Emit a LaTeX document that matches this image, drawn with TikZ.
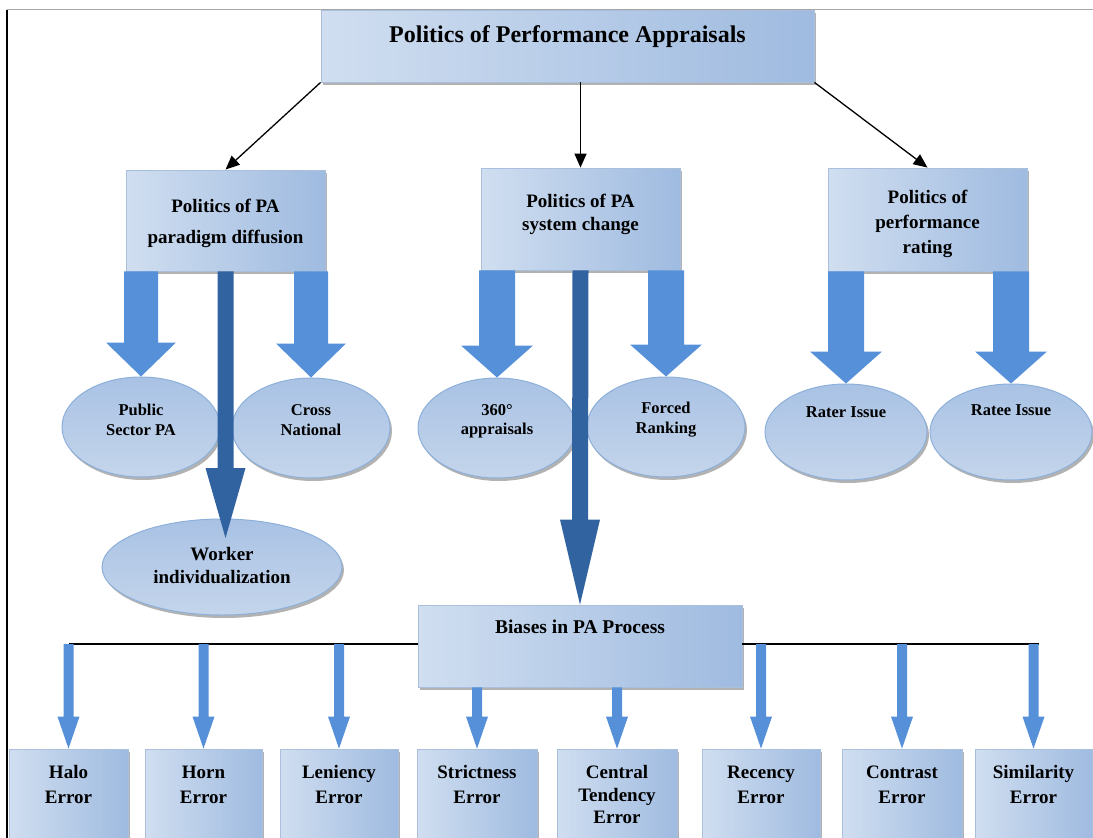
\documentclass[tikz,border=0pt]{standalone}
\usepackage{fontspec}
\setmainfont{Liberation Serif}
\usetikzlibrary{shapes.geometric,shadows,calc,arrows.meta}
\definecolor{arrlight}{HTML}{5590D9}
\definecolor{arrdark}{HTML}{30639F}
\definecolor{bxA}{HTML}{D0DEF0}
\definecolor{bxB}{HTML}{E5ECF6}
\definecolor{bxC}{HTML}{9FBBE0}
\definecolor{bxline}{HTML}{A9BFDB}
\definecolor{ovA}{HTML}{A9C2E4}
\definecolor{ovB}{HTML}{E4ECF6}
\definecolor{ovC}{HTML}{C4D5EB}
\definecolor{ovline}{HTML}{8DB0DA}
% block arrow: style, start, end, half shaft, half head, head length
\newcommand\blockarrow[6]{%
  \fill[#1] ($(#2)+(-#4,0)$) -- ($(#3)+(-#4,-#6)$) -- ($(#3)+(-#5,-#6)$) -- (#3)
    -- ($(#3)+(#5,-#6)$) -- ($(#3)+(#4,-#6)$) -- ($(#2)+(#4,0)$) -- cycle;}
\begin{document}
\begin{tikzpicture}[x=1pt,y=-1pt,
  shad/.style={drop shadow={shadow xshift=2pt,shadow yshift=-3pt,fill=black!55,opacity=.55}},
  box/.style={rectangle,draw=bxline,line width=0.8pt,left color=bxA,middle color=bxB,right color=bxC,inner sep=0pt,shad},
  oval/.style={ellipse,draw=ovline,line width=1pt,top color=ovA,middle color=ovB,bottom color=ovC,inner sep=0pt,shad},
  ttl/.style={font=\fontsize{24}{28}\selectfont\bfseries,align=center,inner sep=0pt},
  lab/.style={font=\fontsize{19}{25}\selectfont\bfseries,align=center,inner sep=0pt},
  olab/.style={font=\fontsize{16.5}{20}\selectfont\bfseries,align=center,inner sep=0pt},
  blackarr/.style={draw=black,line width=1.3pt,-{Triangle[length=14pt,width=12pt]}},
  hline/.style={draw=black,line width=2pt},
]
\useasboundingbox (0,0) rectangle (1093,838);
\clip (0,0) rectangle (1093,838);
% frame lines
\coordinate (fTL) at (7,9.5);
\coordinate (fTR) at (1093,9.5);
\coordinate (fBL) at (7,838);
\draw[black!35,line width=1.2pt] (fTL) -- (fTR);
\draw[black,line width=1.4pt] (fTL) -- (fBL);

% boxes
\node[box,minimum width=493pt,minimum height=72pt] (top) at (567.5,46) {};
\node[box,minimum width=199pt,minimum height=101pt] (b1) at (225.5,220.5) {};
\node[box,minimum width=199pt,minimum height=102pt] (b2) at (580.5,219) {};
\node[box,minimum width=199pt,minimum height=103pt] (b3) at (927.5,219.5) {};
\node[box,minimum width=324pt,minimum height=82pt] (bias) at (580,646) {};

% bottom boxes
\node[box,minimum width=119pt,minimum height=101pt] (halo) at (68.5,799.5) {};
\node[box,minimum width=117pt,minimum height=101pt] (horn) at (203.5,799.5) {};
\node[box,minimum width=118pt,minimum height=101pt] (leni) at (339,799.5) {};
\node[box,minimum width=120pt,minimum height=101pt] (strict) at (477,799.5) {};
\node[box,minimum width=120pt,minimum height=101pt] (central) at (617,799.5) {};
\node[box,minimum width=118pt,minimum height=101pt] (recency) at (761,799.5) {};
\node[box,minimum width=120pt,minimum height=101pt] (contrast) at (902,799.5) {};
\node[box,minimum width=117pt,minimum height=101pt] (simil) at (1033.5,799.5) {};

% ellipses
\node[oval,minimum width=158pt,minimum height=100pt] (pub) at (141,427) {};
\node[oval,minimum width=158pt,minimum height=100pt] (cross) at (311,428) {};
\node[oval,minimum width=240pt,minimum height=96pt] (worker) at (222,567) {};
\node[oval,minimum width=158pt,minimum height=100pt] (e360) at (497,428) {};
\node[oval,minimum width=158pt,minimum height=100pt] (forced) at (666,427) {};
\node[oval,minimum width=162pt,minimum height=96pt] (rater) at (846,432) {};
\node[oval,minimum width=162pt,minimum height=96pt] (ratee) at (1011,432) {};

% black arrows from the title box
\draw[blackarr] (top.south west) -- (b1.north);
\draw[blackarr] (top.south -| b2.north) -- (b2.north);
\draw[blackarr] (top.south east) -- (b3.north);

% light block arrows
\blockarrow{arrlight}{b1.south -| pub.north}{pub.north}{17}{35}{34}
\blockarrow{arrlight}{b1.south -| cross.north}{cross.north}{17}{35}{34}
\blockarrow{arrlight}{b2.south -| e360.north}{e360.north}{18}{36}{32}
\blockarrow{arrlight}{b2.south -| forced.north}{forced.north}{18}{36}{32}
\blockarrow{arrlight}{b3.south -| rater.north}{rater.north}{18}{36}{32}
\blockarrow{arrlight}{b3.south -| ratee.north}{ratee.north}{18}{36}{32}

% dark block arrows
\coordinate (wtip) at (225.5,538);
\blockarrow{arrdark}{b1.south}{wtip}{8}{20}{70}
\blockarrow{arrdark}{b2.south}{bias.north}{8}{20}{85}

% horizontal distribution line
\coordinate (hl) at (0,644);
\draw[hline] (halo.north |- hl) -- (bias.west |- hl);
\draw[hline] (bias.east |- hl) -- ($(simil.north |- hl)+(5,0)$);

% thin arrows
\blockarrow{arrlight}{halo.north |- hl}{halo.north}{5}{11}{32}
\blockarrow{arrlight}{horn.north |- hl}{horn.north}{5}{11}{32}
\blockarrow{arrlight}{leni.north |- hl}{leni.north}{5}{11}{32}
\blockarrow{arrlight}{strict.north |- bias.south}{strict.north}{5}{11}{32}
\blockarrow{arrlight}{central.north |- bias.south}{central.north}{5}{11}{32}
\blockarrow{arrlight}{recency.north |- hl}{recency.north}{5}{11}{32}
\blockarrow{arrlight}{contrast.north |- hl}{contrast.north}{5}{11}{32}
\blockarrow{arrlight}{simil.north |- hl}{simil.north}{5}{11}{32}

% texts
\node[ttl] (topT) at (567.5,37) {Politics of Performance Appraisals};
\node[lab,font=\fontsize{19}{31}\selectfont\bfseries] (b1T) at (225.5,223) {Politics of PA\\paradigm diffusion};
\node[lab,font=\fontsize{19}{23}\selectfont\bfseries] (b2T) at (580.5,214) {Politics of PA\\system change};
\node[lab,font=\fontsize{19}{25}\selectfont\bfseries] (b3T) at (927.5,224) {Politics of\\performance\\rating};
\node[olab] (pubT) at (141,420) {Public\\Sector PA};
\node[olab] (crossT) at (311,420) {Cross\\National};
\node[lab,font=\fontsize{19}{23}\selectfont\bfseries] (workerT) at (222,566) {Worker\\individualization};
\node[olab,font=\fontsize{16.5}{19}\selectfont\bfseries] (e360T) at (497,421) {360°\\appraisals};
\node[olab] (forcedT) at (666,420) {Forced\\Ranking};
\node[olab] (raterT) at (846,412) {Rater Issue};
\node[olab] (rateeT) at (1011,410) {Ratee Issue};
\node[lab,font=\fontsize{19.5}{24}\selectfont\bfseries] (biasT) at (580,627) {Biases in PA Process};
\node[lab] (haloT) at (68.5,784.5) {Halo\\Error};
\node[lab] (hornT) at (203.5,784.5) {Horn\\Error};
\node[lab] (leniT) at (339,784.5) {Leniency\\Error};
\node[lab] (strictT) at (477,784.5) {Strictness\\Error};
\node[lab,font=\fontsize{19}{22.5}\selectfont\bfseries] (centralT) at (617,794.5) {Central\\Tendency\\Error};
\node[lab] (recencyT) at (761,784.5) {Recency\\Error};
\node[lab] (contrastT) at (902,784.5) {Contrast\\Error};
\node[lab] (similT) at (1033.5,784.5) {Similarity\\Error};
\end{tikzpicture}
\end{document}
